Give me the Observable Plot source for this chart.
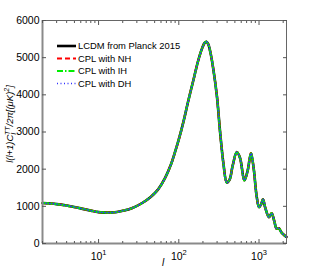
<!DOCTYPE html>
<html><head><meta charset="utf-8">
<script src="https://cdn.jsdelivr.net/npm/d3@7"></script>
<script src="https://cdn.jsdelivr.net/npm/@observablehq/plot@0.6"></script>
<style>
body{margin:0;background:#fff;}
#wrap{position:relative;width:316px;height:273px;}
</style></head><body><div id="wrap"></div>
<script>
// multipole l
const ell = [2,3,4,5,6,8,10,13,16,20,26,35,45,55,67,80,90,100,115,130,153,175,195,210,220,232,250,271,299,328,360,397,430,470,528,580,656,720,794,860,930,1000,1060,1120,1200,1330,1436,1550,1656,1768,1900,2050,2200];
// l(l+1)C_l/2pi in (muK)^2
const dl = [1090,1060,1020,980,945,885,845,830,840,880,950,1090,1260,1450,1750,2130,2470,2800,3300,3800,4420,4930,5250,5400,5430,5370,5100,4650,3950,2970,2150,1640,1720,2100,2460,2300,1700,1950,2430,2000,1300,980,1050,1190,950,710,815,600,400,410,300,230,175];
const seriesNames = ["LCDM from Planck 2015","CPL with NH","CPL with IH","CPL with DH"];
const seriesColors = ["#000000","#ff0000","#00ee00","#3030ff"];
const seriesDash = [null,"5,3","6,2,1.5,2","1,2.5"];
const seriesWidth = [2.6,2.2,2.2,1.3];
const yTicks = [0,1000,2000,3000,4000,5000,6000];
const xMajor = [10,100,1000];
const xMinor = [2,3,4,5,6,7,8,9,20,30,40,50,60,70,80,90,200,300,400,500,600,700,800,900,2000];

const rows = ell.map((l,j)=>({l, d: dl[j]}));
const FONT = "'Liberation Sans', Arial, Helvetica, sans-serif";

const plot = Plot.plot({
  width:316, height:273, marginLeft:42, marginRight:30, marginTop:20, marginBottom:30,
  style:{fontFamily:FONT, fontSize:"10.5px", color:"#000", background:"#fff"},
  x:{type:"log", domain:[2,2200]},
  y:{domain:[0,6000]},
  marks:[
    ...seriesNames.map((s,i)=>Plot.line(rows,{x:"l", y:"d", curve:"catmull-rom", stroke:seriesColors[i], strokeWidth:seriesWidth[i], strokeDasharray:seriesDash[i]})),
    Plot.frame({stroke:"#666", strokeWidth:1}),
    Plot.ruleX([2],{stroke:"#8a8a8a", strokeWidth:2}),
    Plot.ruleY([0],{stroke:"#8a8a8a", strokeWidth:2}),
    Plot.axisY({ticks:yTicks, tickSize:0, tickPadding:3, tickFormat:d=>String(d), label:null}),
    Plot.axisY({ticks:yTicks, tickSize:-4, tickFormat:()=>"", label:null, stroke:"#555"}),
    Plot.axisY({anchor:"right", ticks:yTicks, tickSize:-4, tickFormat:()=>"", label:null, stroke:"#555"}),
    Plot.axisX({ticks:xMajor, tickSize:0, tickPadding:9, tickFormat:d=>String(Math.round(Math.log10(d))), label:null}),
    Plot.axisX({ticks:xMajor, tickSize:-4, tickFormat:()=>"", label:null, stroke:"#555"}),
    Plot.axisX({ticks:xMinor, tickSize:-2, tickFormat:()=>"", label:null, stroke:"#555"}),
    Plot.axisX({anchor:"top", ticks:xMajor, tickSize:-4, tickFormat:()=>"", label:null, stroke:"#555"}),
    Plot.axisX({anchor:"top", ticks:xMinor, tickSize:-2, tickFormat:()=>"", label:null, stroke:"#555"})
  ]
});
document.getElementById("wrap").appendChild(plot);

const svg = d3.select(plot);
// superscript x tick labels
svg.selectAll('g[aria-label="x-axis tick label"] text').each(function(){
  const t = d3.select(this);
  const e = t.text();
  if (!e) return;
  t.text("10");
  t.append("tspan").attr("dy","-5").attr("font-size","7.5px").text(e);
});
// x label
svg.append("text").attr("x",163).attr("y",266).attr("text-anchor","middle")
  .attr("font-family",FONT).attr("font-style","italic").attr("font-size","10px").text("l");
// y label
const yl = svg.append("text").attr("transform","translate(13,124) rotate(-90)").attr("text-anchor","middle")
  .attr("font-family",FONT).attr("font-style","italic").attr("font-size","9.5px");
yl.append("tspan").text("l(l+1)C");
yl.append("tspan").attr("dy","2.5").attr("font-size","7px").text("l");
yl.append("tspan").attr("dy","-6").attr("dx","-2").attr("font-size","7px").text("TT");
yl.append("tspan").attr("dy","3.5").text("/2π[(μK)");
yl.append("tspan").attr("dy","-4").attr("font-size","7px").text("2");
yl.append("tspan").attr("dy","4").text("]");
// legend
const leg = svg.append("g").attr("font-family",FONT).attr("font-size","9.4px").attr("text-anchor","start");
seriesNames.forEach((s,i)=>{
  const cy = 46 + i*12.5;
  leg.append("line").attr("x1",57).attr("x2",76).attr("y1",cy).attr("y2",cy)
    .attr("stroke",seriesColors[i]).attr("stroke-width",seriesWidth[i])
    .attr("stroke-dasharray",seriesDash[i]);
  leg.append("text").attr("x",78).attr("y",cy+3.4).attr("text-anchor","start").text(s);
});
</script></body></html>
